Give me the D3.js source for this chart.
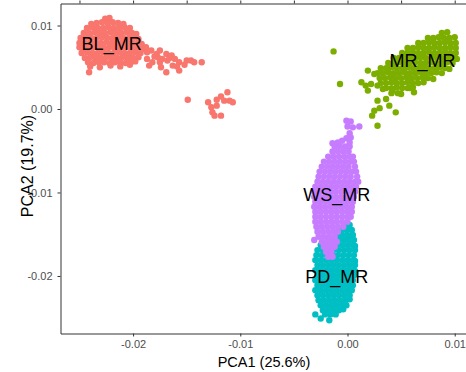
<!DOCTYPE html>
<html>
<head>
<meta charset="utf-8">
<script src="https://cdn.jsdelivr.net/npm/d3@7"></script>
<style>
  body { margin: 0; background: #fff; }
  svg { display: block; font-family: "Liberation Sans", Arial, sans-serif; }
  .axis path, .axis line { stroke: #333; }
  .axis text { fill: #4d4d4d; font-size: 11px; font-family: "Liberation Sans", Arial, sans-serif; }
  .group-label { font-size: 18px; fill: #000; }
  .axis-title { fill: #000; }
</style>
</head>
<body>
<svg id="chart" width="466" height="372"></svg>
<script>
/* ---------- data: PCA scores per population (PCA1, PCA2) ---------- */
const groups = ["BL_MR", "MR_MR", "PD_MR", "WS_MR"];
const groupColors = ["#F8766D", "#7CAE00", "#00BFC4", "#C77CFF"];

const blMR = [
  [-0.0226,0.0108],[-0.0222,0.0109],
  [-0.0239,0.0102],[-0.0234,0.0103],[-0.0229,0.0104],[-0.0224,0.0103],[-0.0219,0.0104],[-0.0214,0.0103],[-0.0209,0.0102],
  [-0.0243,0.0097],[-0.0238,0.0098],[-0.0233,0.0097],[-0.0228,0.0097],[-0.0223,0.0098],[-0.0218,0.0097],[-0.0213,0.0097],[-0.0208,0.0098],[-0.0203,0.0097],
  [-0.0246,0.0091],[-0.0241,0.0091],[-0.0236,0.0092],[-0.0231,0.0091],[-0.0226,0.0091],[-0.0221,0.0092],[-0.0216,0.0091],[-0.0211,0.0091],[-0.0206,0.0092],[-0.0201,0.0091],[-0.0197,0.0090],
  [-0.0249,0.0085],[-0.0244,0.0086],[-0.0239,0.0085],[-0.0234,0.0085],[-0.0229,0.0086],[-0.0224,0.0085],[-0.0219,0.0085],[-0.0214,0.0086],[-0.0209,0.0085],[-0.0204,0.0085],[-0.0199,0.0086],[-0.0195,0.0084],
  [-0.0250,0.0079],[-0.0245,0.0079],[-0.0240,0.0080],[-0.0235,0.0079],[-0.0230,0.0079],[-0.0225,0.0080],[-0.0220,0.0079],[-0.0215,0.0079],[-0.0210,0.0080],[-0.0205,0.0079],[-0.0200,0.0079],[-0.0195,0.0080],[-0.0192,0.0078],
  [-0.0250,0.0074],[-0.0247,0.0073],[-0.0242,0.0073],[-0.0237,0.0074],[-0.0232,0.0073],[-0.0227,0.0073],[-0.0222,0.0074],[-0.0217,0.0073],[-0.0212,0.0073],[-0.0207,0.0074],[-0.0202,0.0073],[-0.0197,0.0073],[-0.0192,0.0074],[-0.0190,0.0072],
  [-0.0248,0.0067],[-0.0243,0.0068],[-0.0238,0.0067],[-0.0233,0.0067],[-0.0228,0.0068],[-0.0223,0.0067],[-0.0218,0.0067],[-0.0213,0.0068],[-0.0208,0.0067],[-0.0203,0.0067],[-0.0198,0.0068],[-0.0193,0.0067],
  [-0.0245,0.0061],[-0.0240,0.0062],[-0.0235,0.0061],[-0.0230,0.0061],[-0.0225,0.0062],[-0.0220,0.0061],[-0.0215,0.0061],[-0.0210,0.0062],[-0.0205,0.0061],[-0.0200,0.0061],[-0.0195,0.0062],
  [-0.0242,0.0056],[-0.0237,0.0055],[-0.0232,0.0056],[-0.0227,0.0056],[-0.0222,0.0055],[-0.0217,0.0056],[-0.0212,0.0056],[-0.0207,0.0055],[-0.0202,0.0056],[-0.0198,0.0057],
  [-0.0240,0.0051],[-0.0231,0.0050],[-0.0221,0.0052],[-0.0212,0.0051],[-0.0203,0.0053],[-0.0241,0.0044],
  // tail
  [-0.0185,0.0052],[-0.0178,0.0066],[-0.0175,0.0070],[-0.0169,0.0066],[-0.0164,0.0064],[-0.0161,0.0060],[-0.0157,0.0056],[-0.0150,0.0058],
  [-0.0146,0.0058],[-0.0136,0.0056],[-0.0169,0.0044],[-0.0157,0.0046],[-0.0163,0.0052],[-0.0175,0.0056],[-0.0182,0.0056],[-0.0187,0.0060],
  [-0.0173,0.0060],[-0.0183,0.0070],[-0.0187,0.0068],[-0.0168,0.0058],[-0.0152,0.0053],[-0.0143,0.0056],[-0.0159,0.0051],[-0.0177,0.0062],
  [-0.0188,0.0074],[-0.0174,0.0050],[-0.0180,0.0063],[-0.0166,0.0061],
  // small outlying group
  [-0.0149,0.0011],[-0.0130,0.0008],[-0.0127,0.0002],[-0.0122,0.0011],[-0.0118,0.0015],[-0.0112,0.0020],[-0.0110,0.0010],
  [-0.0107,0.0008],[-0.0126,-0.0004],[-0.0124,-0.0008],[-0.0118,-0.0008],[-0.0115,0.0010],[-0.0122,0.0004]
];

const mrMR = [
  [0.0088,0.0091],[0.0093,0.0092],
  [0.0075,0.0085],[0.0080,0.0085],[0.0085,0.0086],[0.0090,0.0085],[0.0095,0.0085],[0.0100,0.0086],
  [0.0066,0.0079],[0.0071,0.0079],[0.0076,0.0080],[0.0081,0.0079],[0.0086,0.0079],[0.0091,0.0080],[0.0096,0.0079],[0.0101,0.0079],
  [0.0056,0.0073],[0.0061,0.0073],[0.0066,0.0074],[0.0071,0.0073],[0.0076,0.0073],[0.0081,0.0074],[0.0086,0.0073],[0.0091,0.0073],[0.0096,0.0074],[0.0101,0.0073],
  [0.0051,0.0067],[0.0056,0.0067],[0.0061,0.0068],[0.0066,0.0067],[0.0071,0.0067],[0.0076,0.0068],[0.0081,0.0067],[0.0086,0.0067],[0.0091,0.0068],[0.0096,0.0067],[0.0101,0.0067],
  [0.0043,0.0061],[0.0048,0.0061],[0.0053,0.0062],[0.0058,0.0061],[0.0063,0.0061],[0.0068,0.0062],[0.0073,0.0061],[0.0078,0.0061],[0.0083,0.0062],[0.0088,0.0061],[0.0093,0.0061],[0.0098,0.0062],[0.0102,0.0060],
  [0.0038,0.0055],[0.0043,0.0055],[0.0048,0.0056],[0.0053,0.0055],[0.0058,0.0055],[0.0063,0.0056],[0.0068,0.0055],[0.0073,0.0055],[0.0078,0.0056],[0.0083,0.0055],[0.0088,0.0055],[0.0093,0.0056],[0.0098,0.0055],
  [0.0031,0.0049],[0.0036,0.0049],[0.0041,0.0050],[0.0046,0.0049],[0.0051,0.0049],[0.0056,0.0050],[0.0061,0.0049],[0.0066,0.0049],[0.0071,0.0050],[0.0076,0.0049],[0.0081,0.0049],[0.0086,0.0050],[0.0091,0.0049],[0.0095,0.0048],
  [0.0028,0.0043],[0.0033,0.0043],[0.0038,0.0044],[0.0043,0.0043],[0.0048,0.0043],[0.0053,0.0044],[0.0058,0.0043],[0.0063,0.0043],[0.0068,0.0044],[0.0073,0.0043],[0.0078,0.0043],[0.0083,0.0044],[0.0088,0.0043],
  [0.0030,0.0037],[0.0035,0.0037],[0.0040,0.0038],[0.0045,0.0037],[0.0050,0.0037],[0.0055,0.0038],[0.0060,0.0037],[0.0065,0.0037],[0.0070,0.0038],[0.0075,0.0037],[0.0080,0.0036],
  [0.0031,0.0031],[0.0036,0.0031],[0.0041,0.0032],[0.0046,0.0031],[0.0051,0.0031],[0.0056,0.0032],[0.0061,0.0031],[0.0066,0.0031],[0.0071,0.0032],
  [0.0036,0.0025],[0.0041,0.0025],[0.0046,0.0026],[0.0051,0.0025],[0.0056,0.0025],[0.0061,0.0026],
  [0.0041,0.0019],[0.0047,0.0019],
  // scattered
  [-0.0013,0.0069],[-0.0007,0.0030],[0.0019,0.0046],[0.0025,0.0042],[0.0013,0.0032],[0.0017,0.0028],[0.0022,0.0030],[0.0028,0.0028],
  [0.0033,0.0024],[0.0019,0.0022],[0.0028,0.0010],[0.0036,0.0012],[0.0039,0.0004],[0.0025,-0.0002],[0.0030,0.0001],[0.0023,-0.0008],
  [0.0045,-0.0004],[0.0028,-0.0020],[0.0050,0.0018],[0.0042,0.0022],[0.0058,0.0025],[0.0062,0.0020]
];

const pdMR = [
  [-0.0003,-0.0139],[0.0002,-0.0139],
  [-0.0006,-0.0145],[-0.0001,-0.0145],[0.0004,-0.0145],
  [-0.0010,-0.0151],[-0.0005,-0.0151],[0,-0.0151],[0.0005,-0.0151],
  [-0.0018,-0.0157],[-0.0013,-0.0157],[-0.0008,-0.0157],[-0.0003,-0.0157],[0.0002,-0.0157],[0.0006,-0.0157],
  [-0.0025,-0.0163],[-0.0020,-0.0163],[-0.0015,-0.0163],[-0.0010,-0.0163],[-0.0005,-0.0163],[0,-0.0163],[0.0005,-0.0163],[0.0007,-0.0164],
  [-0.0028,-0.0169],[-0.0023,-0.0169],[-0.0018,-0.0169],[-0.0013,-0.0169],[-0.0008,-0.0169],[-0.0003,-0.0169],[0.0002,-0.0169],[0.0007,-0.0169],
  [-0.0029,-0.0175],[-0.0024,-0.0175],[-0.0019,-0.0175],[-0.0014,-0.0175],[-0.0009,-0.0175],[-0.0004,-0.0175],[0.0001,-0.0175],[0.0006,-0.0175],
  [-0.0030,-0.0181],[-0.0025,-0.0181],[-0.0020,-0.0181],[-0.0015,-0.0181],[-0.0010,-0.0181],[-0.0005,-0.0181],[0,-0.0181],[0.0005,-0.0181],[0.0007,-0.0182],
  [-0.0028,-0.0187],[-0.0023,-0.0187],[-0.0018,-0.0187],[-0.0013,-0.0187],[-0.0008,-0.0187],[-0.0003,-0.0187],[0.0002,-0.0187],[0.0007,-0.0187],
  [-0.0030,-0.0193],[-0.0025,-0.0193],[-0.0020,-0.0193],[-0.0015,-0.0193],[-0.0010,-0.0193],[-0.0005,-0.0193],[0,-0.0193],[0.0005,-0.0193],[0.0007,-0.0194],
  [-0.0028,-0.0199],[-0.0023,-0.0199],[-0.0018,-0.0199],[-0.0013,-0.0199],[-0.0008,-0.0199],[-0.0003,-0.0199],[0.0002,-0.0199],[0.0006,-0.0199],
  [-0.0030,-0.0205],[-0.0025,-0.0205],[-0.0020,-0.0205],[-0.0015,-0.0205],[-0.0010,-0.0205],[-0.0005,-0.0205],[0,-0.0205],[0.0005,-0.0205],
  [-0.0028,-0.0211],[-0.0023,-0.0211],[-0.0018,-0.0211],[-0.0013,-0.0211],[-0.0008,-0.0211],[-0.0003,-0.0211],[0.0002,-0.0211],[0.0005,-0.0211],
  [-0.0030,-0.0217],[-0.0025,-0.0217],[-0.0020,-0.0217],[-0.0015,-0.0217],[-0.0010,-0.0217],[-0.0005,-0.0217],[0,-0.0217],[0.0004,-0.0217],
  [-0.0028,-0.0223],[-0.0023,-0.0223],[-0.0018,-0.0223],[-0.0013,-0.0223],[-0.0008,-0.0223],[-0.0003,-0.0223],[0.0002,-0.0223],
  [-0.0027,-0.0229],[-0.0022,-0.0229],[-0.0017,-0.0229],[-0.0012,-0.0229],[-0.0007,-0.0229],[-0.0002,-0.0229],[0.0002,-0.0228],
  [-0.0025,-0.0235],[-0.0020,-0.0235],[-0.0015,-0.0235],[-0.0010,-0.0235],[-0.0005,-0.0235],[-0.0001,-0.0235],
  [-0.0023,-0.0241],[-0.0018,-0.0241],[-0.0013,-0.0241],[-0.0008,-0.0241],[-0.0004,-0.0240],
  [-0.0021,-0.0246],[-0.0016,-0.0246],[-0.0011,-0.0246],
  [-0.0030,-0.0246],[-0.0025,-0.0251],[-0.0017,-0.0253]
];

const wsMR = [
  [-0.0001,-0.0014],[0.0003,-0.0015],[0,-0.0021],[0.0005,-0.0022],[0.0011,-0.0021],[0.0002,-0.0029],
  [0.0003,-0.0034],[-0.0001,-0.0035],[-0.0005,-0.0038],[-0.0009,-0.0040],[-0.0014,-0.0041],[0.0002,-0.0040],
  [-0.0012,-0.0045],[-0.0007,-0.0045],[-0.0002,-0.0045],[0.0002,-0.0045],
  [-0.0014,-0.0051],[-0.0009,-0.0051],[-0.0004,-0.0051],[0.0001,-0.0051],
  [-0.0018,-0.0057],[-0.0013,-0.0057],[-0.0008,-0.0057],[-0.0003,-0.0057],[0.0002,-0.0057],[0.0005,-0.0057],
  [-0.0022,-0.0063],[-0.0017,-0.0063],[-0.0012,-0.0063],[-0.0007,-0.0063],[-0.0002,-0.0063],[0.0003,-0.0063],[0.0006,-0.0063],
  [-0.0024,-0.0069],[-0.0019,-0.0069],[-0.0014,-0.0069],[-0.0009,-0.0069],[-0.0004,-0.0069],[0.0001,-0.0069],[0.0007,-0.0069],
  [-0.0026,-0.0075],[-0.0021,-0.0075],[-0.0016,-0.0075],[-0.0011,-0.0075],[-0.0006,-0.0075],[-0.0001,-0.0075],[0.0004,-0.0075],[0.0008,-0.0075],
  [-0.0027,-0.0081],[-0.0022,-0.0081],[-0.0017,-0.0081],[-0.0012,-0.0081],[-0.0007,-0.0081],[-0.0002,-0.0081],[0.0003,-0.0081],[0.0009,-0.0081],
  [-0.0028,-0.0087],[-0.0023,-0.0087],[-0.0018,-0.0087],[-0.0013,-0.0087],[-0.0008,-0.0087],[-0.0003,-0.0087],[0.0002,-0.0087],[0.0007,-0.0087],[0.0010,-0.0087],
  [-0.0030,-0.0093],[-0.0025,-0.0093],[-0.0020,-0.0093],[-0.0015,-0.0093],[-0.0010,-0.0093],[-0.0005,-0.0093],[0,-0.0093],[0.0005,-0.0093],[0.0008,-0.0093],
  [-0.0031,-0.0099],[-0.0026,-0.0099],[-0.0021,-0.0099],[-0.0016,-0.0099],[-0.0011,-0.0099],[-0.0006,-0.0099],[-0.0001,-0.0099],[0.0004,-0.0099],[0.0007,-0.0099],
  [-0.0031,-0.0105],[-0.0026,-0.0105],[-0.0021,-0.0105],[-0.0016,-0.0105],[-0.0011,-0.0105],[-0.0006,-0.0105],[-0.0001,-0.0105],[0.0004,-0.0105],[0.0006,-0.0105],
  [-0.0030,-0.0111],[-0.0025,-0.0111],[-0.0020,-0.0111],[-0.0015,-0.0111],[-0.0010,-0.0111],[-0.0005,-0.0111],[0,-0.0111],[0.0005,-0.0111],
  [-0.0031,-0.0117],[-0.0026,-0.0117],[-0.0021,-0.0117],[-0.0016,-0.0117],[-0.0011,-0.0117],[-0.0006,-0.0117],[-0.0001,-0.0117],[0.0004,-0.0117],
  [-0.0030,-0.0123],[-0.0025,-0.0123],[-0.0020,-0.0123],[-0.0015,-0.0123],[-0.0010,-0.0123],[-0.0005,-0.0123],[0,-0.0123],[0.0004,-0.0123],
  [-0.0030,-0.0129],[-0.0025,-0.0129],[-0.0020,-0.0129],[-0.0015,-0.0129],[-0.0010,-0.0129],[-0.0005,-0.0129],[0,-0.0129],[0.0003,-0.0129],
  [-0.0030,-0.0135],[-0.0025,-0.0135],[-0.0020,-0.0135],[-0.0015,-0.0135],[-0.0010,-0.0135],[-0.0005,-0.0135],[0,-0.0135],
  [-0.0029,-0.0141],[-0.0024,-0.0141],[-0.0019,-0.0141],[-0.0014,-0.0141],[-0.0009,-0.0141],[-0.0004,-0.0141],
  [-0.0028,-0.0147],[-0.0023,-0.0147],[-0.0018,-0.0147],[-0.0013,-0.0147],[-0.0009,-0.0147],
  [-0.0027,-0.0153],[-0.0022,-0.0153],[-0.0017,-0.0153],[-0.0012,-0.0153],
  [-0.0024,-0.0159],[-0.0019,-0.0159],[-0.0014,-0.0159],[-0.0010,-0.0159],
  [-0.0022,-0.0165],[-0.0017,-0.0165],[-0.0012,-0.0165],
  [-0.0020,-0.0171],[-0.0015,-0.0171],
  [-0.0018,-0.0177],[-0.0014,-0.0177],
  [-0.0031,-0.0157]
];

// label anchor per group, same order as `groups`
const labelPos = [[-0.0220, 0.0079], [0.0070, 0.00575], [-0.0010, -0.0201], [-0.0010, -0.0102]];

const xTicks = [-0.02, -0.01, 0.00, 0.01];
const xTickLabels = ["-0.02", "-0.01", "0.00", "0.01"];
const yTicks = [-0.02, -0.01, 0.00, 0.01];
const yTickLabels = ["-0.02", "-0.01", "0.00", "0.01"];
// tick marks of the panel cut off along the top edge
const topTicks = [-0.025, -0.02, -0.015, -0.01, -0.005, 0, 0.005, 0.01];

/* ---------- layout ---------- */
const svg = d3.select("#chart");
const margin = { top: 3.5, left: 60.5 };
const innerW = 406, innerH = 330;

const x = d3.scaleLinear().domain([-0.02677, 0.01110]).range([0, innerW]);
const y = d3.scaleLinear().domain([-0.02689, 0.012635]).range([innerH, 0]);

const g = svg.append("g").attr("transform", `translate(${margin.left},${margin.top})`);

// points, drawn group by group (BL, MR, PD, WS)
const series = [blMR, mrMR, pdMR, wsMR];
series.forEach((pts, i) => {
  g.append("g").selectAll("circle")
    .data(pts).join("circle")
    .attr("cx", d => x(d[0]))
    .attr("cy", d => y(d[1]))
    .attr("r", 3.2)
    .attr("fill", groupColors[i]);
});

// axes
g.append("g").attr("class", "axis")
  .call(d3.axisTop(x).tickValues(topTicks).tickSize(3).tickSizeOuter(0).tickFormat(""));

g.append("g").attr("class", "axis")
  .attr("transform", `translate(0,${innerH})`)
  .call(d3.axisBottom(x).tickValues(xTicks).tickSize(3).tickSizeOuter(0).tickPadding(4)
    .tickFormat((d, i) => xTickLabels[i]));

g.append("g").attr("class", "axis")
  .call(d3.axisLeft(y).tickValues(yTicks).tickSize(3).tickSizeOuter(0).tickPadding(5)
    .tickFormat((d, i) => yTickLabels[i]));

// group labels
g.append("g").selectAll("text")
  .data(groups).join("text")
  .attr("class", "group-label")
  .attr("x", (d, i) => x(labelPos[i][0]))
  .attr("y", (d, i) => y(labelPos[i][1]))
  .attr("dy", "0.36em")
  .attr("text-anchor", "middle")
  .text(d => d);

// axis titles
svg.append("text").attr("class", "axis-title")
  .attr("x", 264).attr("y", 367)
  .attr("text-anchor", "middle").style("font-size", "14.5px")
  .text("PCA1 (25.6%)");

svg.append("text").attr("class", "axis-title")
  .attr("transform", "translate(33,166) rotate(-90)")
  .attr("text-anchor", "middle").style("font-size", "16px")
  .text("PCA2 (19.7%)");
</script>
</body>
</html>
